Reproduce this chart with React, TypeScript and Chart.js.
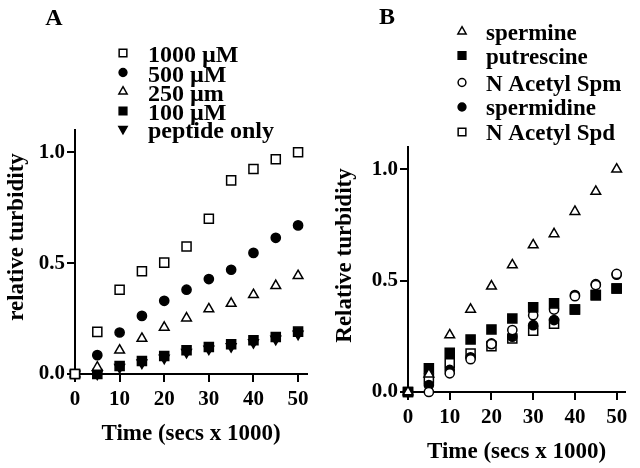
import React, { useEffect, useRef } from 'react';
import { Chart, registerables } from 'chart.js';
import { drawPoint } from 'chart.js/helpers';

Chart.register(...registerables);

// ---- data ----
const times = [0, 5, 10, 15, 20, 25, 30, 35, 40, 45, 50];
const xTicks = [0, 10, 20, 30, 40, 50];
const yTicks = [0, 0.5, 1.0];

const aLabels = ['1000 µM', '500 µM', '250 µm', '100 µM', 'peptide only'];
const a1000 = [0, 0.19, 0.38, 0.463, 0.502, 0.575, 0.70, 0.873, 0.924, 0.968, 1.0];
const a500 = [0, 0.085, 0.187, 0.262, 0.33, 0.38, 0.428, 0.47, 0.546, 0.614, 0.67];
const a250 = [0, 0.03, 0.107, 0.16, 0.21, 0.252, 0.293, 0.318, 0.357, 0.398, 0.443];
const a100 = [0, 0, 0.036, 0.059, 0.081, 0.107, 0.122, 0.134, 0.152, 0.167, 0.191];
const aPeptide = [0, 0, 0.03, 0.05, 0.072, 0.098, 0.113, 0.124, 0.142, 0.157, 0.18];

const bLabels = ['spermine', 'putrescine', 'N Acetyl Spm', 'spermidine', 'N Acetyl Spd'];
const bSpermine = [0, 0.08, 0.256, 0.371, 0.475, 0.57, 0.66, 0.71, 0.81, 0.9, 1.0];
const bPutrescine = [0, 0.106, 0.176, 0.236, 0.281, 0.33, 0.38, 0.398, 0.37, 0.435, 0.465];
const bNAcSpm = [0, 0.0, 0.084, 0.147, 0.215, 0.278, 0.345, 0.37, 0.43, 0.48, 0.53];
const bSpermidine = [0, 0.031, 0.099, 0.156, 0.218, 0.248, 0.30, 0.323, 0.435, 0.484, 0.527];
const bNAcSpd = [0, 0.061, 0.129, 0.173, 0.206, 0.24, 0.275, 0.306, 0.37, 0.435, 0.465];

const FONT = "'Liberation Serif', 'Times New Roman', serif";

type Marker = { style: string; filled: boolean; radius: number; rotation?: number };

const sq = (filled: boolean): Marker => ({ style: 'rect', filled, radius: 6.4 });
const ci = (filled: boolean): Marker => ({ style: 'circle', filled, radius: 4.6 });
const tri = (filled: boolean, rotation = 0): Marker => ({ style: 'triangle', filled, radius: 5.6, rotation });

function makeDataset(label: string, values: number[], m: Marker) {
  return {
    label,
    data: values.map((v, i) => ({ x: times[i], y: v })),
    showLine: false,
    pointStyle: m.style,
    pointRadius: m.radius,
    pointHoverRadius: m.radius,
    pointRotation: m.rotation || 0,
    pointBackgroundColor: m.filled ? '#000' : '#fff',
    pointBorderColor: '#000',
    pointBorderWidth: 1.5,
    clip: false as any,
  };
}

const panelDecor = {
  id: 'panelDecor',
  afterDraw(chart: any, _args: any, opts: any) {
    const ctx = chart.ctx as CanvasRenderingContext2D;
    const area = chart.chartArea;
    ctx.save();
    ctx.fillStyle = '#000';
    // panel letter
    ctx.font = `bold 24px ${FONT}`;
    ctx.textAlign = 'center';
    ctx.textBaseline = 'alphabetic';
    ctx.fillText(opts.letter, opts.letterX, opts.letterY);
    // y axis title
    ctx.save();
    ctx.translate(opts.yTitleX, (area.top + area.bottom) / 2 + opts.yTitleDy);
    ctx.rotate(-Math.PI / 2);
    ctx.font = `bold 23px ${FONT}`;
    ctx.textAlign = 'center';
    ctx.textBaseline = 'middle';
    ctx.fillText(opts.yTitle, 0, 0);
    ctx.restore();
    // legend
    ctx.font = `bold ${opts.legendSize}px ${FONT}`;
    ctx.textAlign = 'left';
    ctx.textBaseline = 'alphabetic';
    chart.data.datasets.forEach((ds: any, i: number) => {
      const base = opts.baselines[i];
      const sy = base + opts.symbolDy;
      ctx.fillStyle = ds.pointBackgroundColor;
      ctx.strokeStyle = ds.pointBorderColor;
      ctx.lineWidth = ds.pointBorderWidth;
      drawPoint(ctx, {
        pointStyle: ds.pointStyle,
        radius: ds.pointRadius * 0.85,
        rotation: ds.pointRotation || 0,
        borderWidth: ds.pointBorderWidth,
      } as any, opts.symbolX, sy);
      ctx.fillStyle = '#000';
      ctx.fillText(ds.label, opts.textX, base);
    });
    ctx.restore();
  },
};

function makeConfig(p: {
  datasets: any[];
  padding: any;
  yWidth: number;
  xHeight: number;
  xTitlePad: number;
  decor: any;
}) {
  return {
    type: 'scatter' as const,
    data: { datasets: p.datasets },
    plugins: [panelDecor],
    options: {
      animation: false as const,
      responsive: false,
      events: [],
      layout: { padding: p.padding },
      plugins: {
        legend: { display: false },
        tooltip: { enabled: false },
        panelDecor: p.decor,
      },
      scales: {
        x: {
          type: 'linear' as const,
          min: 0,
          max: 52,
          afterBuildTicks: (s: any) => { s.ticks = xTicks.map((v) => ({ value: v })); },
          afterFit: (s: any) => { s.height = p.xHeight; },
          grid: { drawOnChartArea: false, drawTicks: true, tickLength: 8, color: '#000', lineWidth: 2 },
          border: { display: true, color: '#000', width: 2 },
          ticks: { color: '#000', padding: 5, font: { family: FONT, size: 21, weight: 'bold' as const } },
          title: {
            display: true,
            text: 'Time (secs x 1000)',
            color: '#000',
            padding: { top: 0, bottom: p.xTitlePad },
            font: { family: FONT, size: 23, weight: 'bold' as const },
          },
        },
        y: {
          type: 'linear' as const,
          min: 0,
          max: 1.1,
          afterBuildTicks: (s: any) => { s.ticks = yTicks.map((v) => ({ value: v })); },
          afterFit: (s: any) => { s.width = p.yWidth; },
          grid: { drawOnChartArea: false, drawTicks: true, tickLength: 8, color: '#000', lineWidth: 2 },
          border: { display: true, color: '#000', width: 2 },
          ticks: {
            color: '#000',
            padding: 2,
            font: { family: FONT, size: 21, weight: 'bold' as const },
            callback: (v: any) => Number(v).toFixed(1),
          },
          title: { display: false },
        },
      },
    },
  };
}

export default function App() {
  const refA = useRef<HTMLCanvasElement>(null);
  const refB = useRef<HTMLCanvasElement>(null);

  useEffect(() => {
    const dsA = [
      makeDataset(aLabels[0], a1000, sq(false)),
      makeDataset(aLabels[1], a500, ci(true)),
      makeDataset(aLabels[2], a250, tri(false)),
      makeDataset(aLabels[3], a100, sq(true)),
      makeDataset(aLabels[4], aPeptide, tri(true, 180)),
    ];
    const dsB = [
      makeDataset(bLabels[0], bSpermine, tri(false)),
      makeDataset(bLabels[1], bPutrescine, sq(true)),
      makeDataset(bLabels[2], bNAcSpm, ci(false)),
      makeDataset(bLabels[3], bSpermidine, ci(true)),
      makeDataset(bLabels[4], bNAcSpd, sq(false)),
    ];
    const chartA = new Chart(refA.current as HTMLCanvasElement, makeConfig({
      datasets: dsA,
      padding: { top: 130, right: 13, left: 0, bottom: 0 },
      yWidth: 75,
      xHeight: 94,
      xTitlePad: 20,
      decor: {
        letter: 'A', letterX: 54, letterY: 25,
        yTitle: 'relative turbidity', yTitleX: 17, yTitleDy: -15,
        legendSize: 24,
        symbolX: 123, textX: 148, symbolDy: -9,
        baselines: [62, 81.5, 100.5, 120, 138],
      },
    }) as any);
    const chartB = new Chart(refB.current as HTMLCanvasElement, makeConfig({
      datasets: dsB,
      padding: { top: 147, right: 15, left: 0, bottom: 0 },
      yWidth: 88,
      xHeight: 76,
      xTitlePad: 2,
      decor: {
        letter: 'B', letterX: 67, letterY: 24,
        yTitle: 'Relative turbidity', yTitleX: 25, yTitleDy: -14,
        legendSize: 23,
        symbolX: 142, textX: 166, symbolDy: -8,
        baselines: [39.5, 63.5, 90.5, 115, 140],
      },
    }) as any);
    return () => {
      chartA.destroy();
      chartB.destroy();
    };
  }, []);

  return (
    <div style={{ position: 'fixed', left: 0, top: 0, width: 640, height: 468, background: '#fff' }}>
      <canvas ref={refA} width={320} height={468} style={{ position: 'absolute', left: 0, top: 0, display: 'block' }} />
      <canvas ref={refB} width={320} height={468} style={{ position: 'absolute', left: 320, top: 0, display: 'block' }} />
    </div>
  );
}
